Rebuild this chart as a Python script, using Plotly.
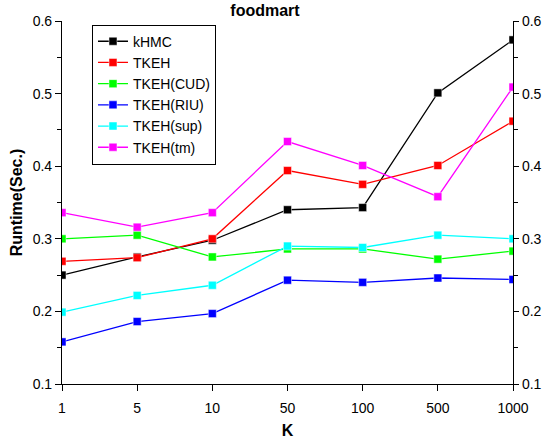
import plotly.graph_objects as go

categories = ["1", "5", "10", "50", "100", "500", "1000"]
khmc = [0.250, 0.275, 0.298, 0.340, 0.343, 0.501, 0.574]
tkeh = [0.269, 0.274, 0.300, 0.394, 0.375, 0.401, 0.462]
tkeh_cud = [0.300, 0.305, 0.275, 0.286, 0.286, 0.272, 0.283]
tkeh_riu = [0.158, 0.186, 0.197, 0.243, 0.240, 0.246, 0.244]
tkeh_sup = [0.199, 0.222, 0.236, 0.290, 0.288, 0.305, 0.300]
tkeh_tm = [0.336, 0.316, 0.336, 0.434, 0.401, 0.358, 0.509]

series = [
    ("kHMC", khmc, "#000000"),
    ("TKEH", tkeh, "#ff0000"),
    ("TKEH(CUD)", tkeh_cud, "#00ff00"),
    ("TKEH(RIU)", tkeh_riu, "#0000ff"),
    ("TKEH(sup)", tkeh_sup, "#00ffff"),
    ("TKEH(tm)", tkeh_tm, "#ff00ff"),
]

fig = go.Figure()
for name, vals, col in series:
    fig.add_trace(go.Scatter(
        x=categories, y=vals, name=name, mode="lines+markers",
        line=dict(color=col, width=1.3),
        marker=dict(symbol="square", size=8, color=col,
                    line=dict(color="rgba(255,255,255,0.6)", width=0.8)),
    ))

# invisible trace for right axis
fig.add_trace(go.Scatter(x=categories, y=khmc, yaxis="y2", showlegend=False,
                         mode="markers", marker=dict(opacity=0), hoverinfo="skip"))

FAM = "Liberation Sans, Arial"
fig.update_layout(
    width=544, height=439,
    margin=dict(l=62, r=31, t=21, b=55, autoexpand=False),
    paper_bgcolor="white", plot_bgcolor="white",
    font=dict(family=FAM, size=14, color="#000"),
    title=dict(text="<b>foodmart</b>", x=(265 - 62) / 451, xref="paper", xanchor="center",
               y=0.99, yref="container", yanchor="top",
               font=dict(family=FAM, size=16)),
    showlegend=True,
    legend=dict(x=0.0665, y=0.99, xref="paper", yref="paper",
                xanchor="left", yanchor="top",
                bordercolor="#000", borderwidth=1, bgcolor="white",
                font=dict(family=FAM, size=14),
                tracegroupgap=0),
    xaxis=dict(type="category", range=[0, 6], showgrid=False, automargin=False,
               showline=True, linecolor="#000", linewidth=1.2,
               ticks="outside", ticklen=6, tickcolor="#000",
               ticklabelstandoff=5,
               title=dict(text="<b>K</b>", font=dict(size=16), standoff=10),
               zeroline=False),
    yaxis=dict(range=[0.1, 0.6], dtick=0.1, tickformat=".1f", showgrid=False,
               automargin=False,
               showline=True, linecolor="#000", linewidth=1.2,
               ticks="outside", ticklen=6, tickcolor="#000",
               minor=dict(dtick=0.05, ticks="outside", ticklen=4, tickcolor="#000"),
               title=dict(text="<b>Runtime(Sec.)</b>", font=dict(size=16), standoff=6),
               zeroline=False),
    yaxis2=dict(range=[0.1, 0.6], dtick=0.1, tickformat=".1f", showgrid=False,
                automargin=False,
                overlaying="y", side="right", anchor="x",
                showline=True, linecolor="#000", linewidth=1.2,
                ticks="outside", ticklen=5, tickcolor="#000",
                minor=dict(dtick=0.05, ticks="outside", ticklen=4, tickcolor="#000"),
                zeroline=False),
)

fig.write_html("out.html")
